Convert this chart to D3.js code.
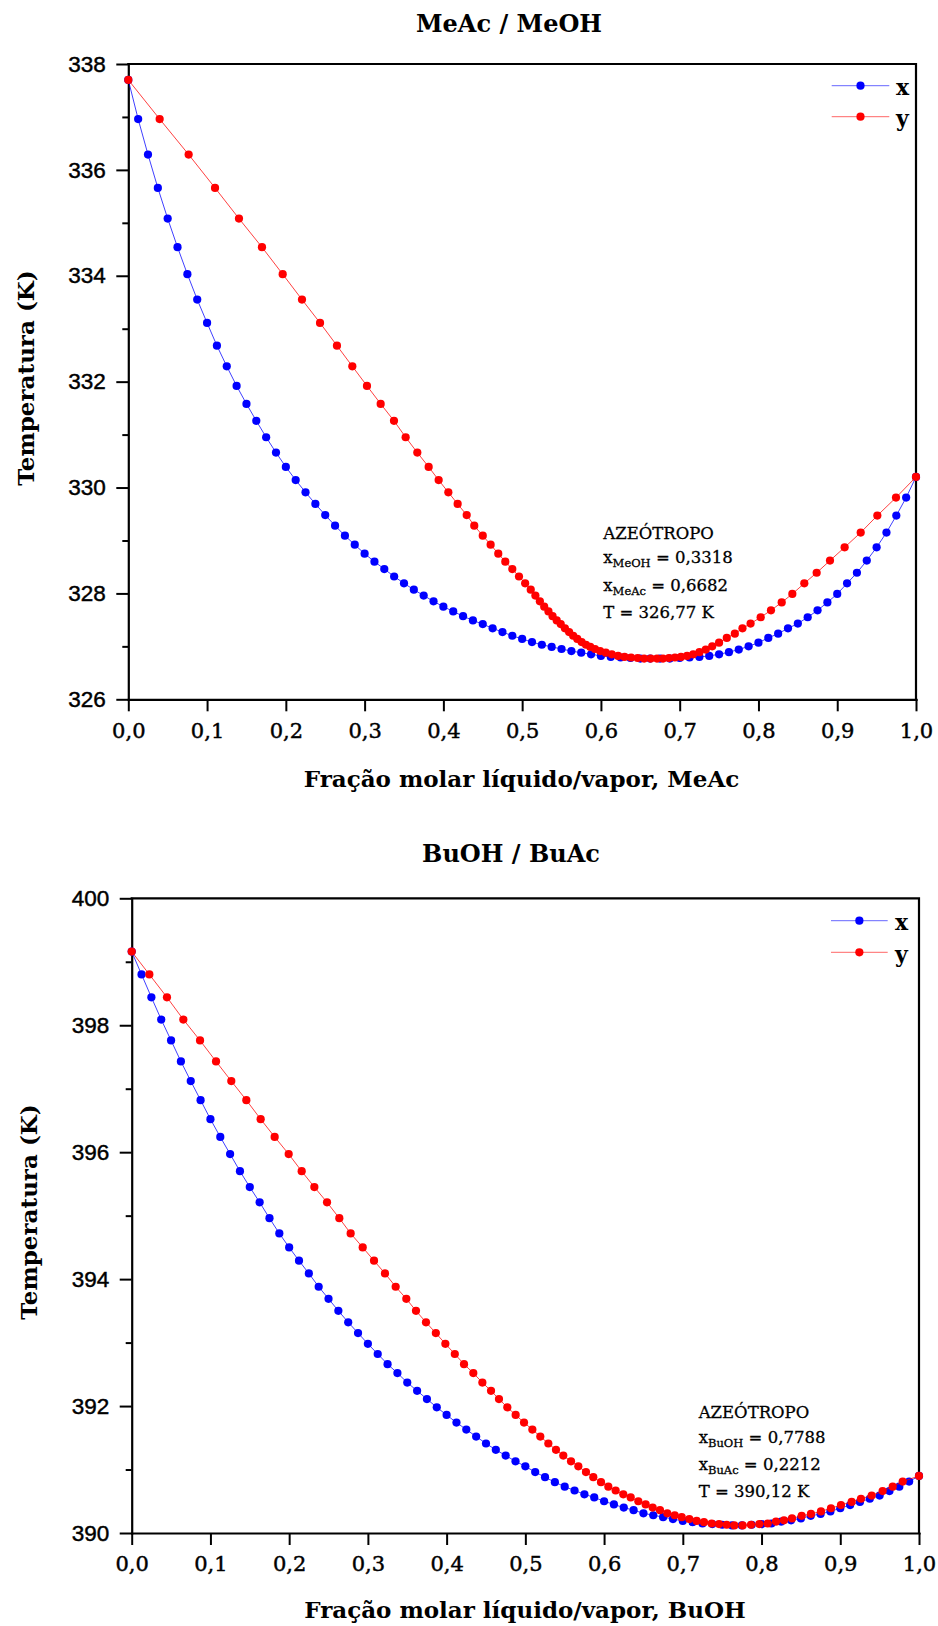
<!DOCTYPE html>
<html><head><meta charset="utf-8">
<script src="https://cdn.jsdelivr.net/npm/d3@7"></script>
<style>
body{margin:0;background:#fff;}
svg{display:block;background:#fff;}
</style></head><body>
<svg id="chart" width="938" height="1626"></svg>
<script>
// ---------- DATA ----------
const liquidFraction = [0, 0.0125, 0.025, 0.0375, 0.05, 0.0625, 0.075, 0.0875, 0.1, 0.1125,
  0.125, 0.1375, 0.15, 0.1625, 0.175, 0.1875, 0.2, 0.2125, 0.225, 0.2375,
  0.25, 0.2625, 0.275, 0.2875, 0.3, 0.3125, 0.325, 0.3375, 0.35, 0.3625,
  0.375, 0.3875, 0.4, 0.4125, 0.425, 0.4375, 0.45, 0.4625, 0.475, 0.4875,
  0.5, 0.5125, 0.525, 0.5375, 0.55, 0.5625, 0.575, 0.5875, 0.6, 0.6125,
  0.625, 0.6375, 0.65, 0.6625, 0.675, 0.6875, 0.7, 0.7125, 0.725, 0.7375,
  0.75, 0.7625, 0.775, 0.7875, 0.8, 0.8125, 0.825, 0.8375, 0.85, 0.8625,
  0.875, 0.8875, 0.9, 0.9125, 0.925, 0.9375, 0.95, 0.9625, 0.975, 0.9875, 1];

const meacTemperature = [337.70, 336.96, 336.29, 335.66, 335.08, 334.54, 334.03, 333.55, 333.11, 332.68,
  332.29, 331.92, 331.58, 331.26, 330.95, 330.66, 330.39, 330.14, 329.91, 329.69,
  329.48, 329.28, 329.09, 328.92, 328.75, 328.60, 328.46, 328.32, 328.19, 328.07,
  327.96, 327.85, 327.75, 327.66, 327.57, 327.49, 327.42, 327.34, 327.27, 327.20,
  327.14, 327.08, 327.03, 326.99, 326.95, 326.91, 326.88, 326.85, 326.82, 326.80,
  326.79, 326.78, 326.77, 326.77, 326.77, 326.77, 326.78, 326.79, 326.80, 326.82,
  326.85, 326.89, 326.94, 327.00, 327.07, 327.16, 327.24, 327.34, 327.43, 327.55,
  327.68, 327.83, 327.99, 328.19, 328.39, 328.62, 328.87, 329.15, 329.47, 329.81, 330.20];

const meacVapor = [0, 0.0398, 0.0766, 0.1101, 0.1405, 0.1697, 0.1960, 0.2205, 0.2434, 0.2649,
  0.2844, 0.3030, 0.3204, 0.3373, 0.3521, 0.3669, 0.3813, 0.3940, 0.4063, 0.4181,
  0.4296, 0.4392, 0.4500, 0.4600, 0.4697, 0.4786, 0.4875, 0.4960, 0.5038, 0.5109,
  0.5168, 0.5225, 0.5280, 0.5334, 0.5386, 0.5439, 0.5490, 0.5543, 0.5596, 0.5648,
  0.5700, 0.5755, 0.5810, 0.5865, 0.5925, 0.5990, 0.6062, 0.6138, 0.6218, 0.6300,
  0.6383, 0.6466, 0.6549, 0.6632, 0.6712, 0.6788, 0.6864, 0.6940, 0.7017, 0.7094,
  0.7172, 0.7251, 0.7331, 0.7413, 0.7500, 0.7598, 0.7700, 0.7797, 0.7900, 0.8028,
  0.8159, 0.8295, 0.8430, 0.8582, 0.8739, 0.8908, 0.9094, 0.9298, 0.9509, 0.9746, 1];

const buohTemperature = [399.16, 398.80, 398.44, 398.09, 397.76, 397.43, 397.12, 396.82, 396.52, 396.24,
  395.97, 395.70, 395.45, 395.21, 394.96, 394.72, 394.50, 394.29, 394.09, 393.88,
  393.69, 393.50, 393.32, 393.15, 392.98, 392.82, 392.66, 392.52, 392.37, 392.24,
  392.11, 391.98, 391.86, 391.74, 391.63, 391.52, 391.41, 391.31, 391.22, 391.13,
  391.05, 390.96, 390.88, 390.80, 390.73, 390.67, 390.61, 390.56, 390.50, 390.45,
  390.40, 390.36, 390.31, 390.28, 390.25, 390.22, 390.19, 390.17, 390.15, 390.14,
  390.13, 390.12, 390.12, 390.13, 390.14, 390.15, 390.18, 390.20, 390.23, 390.27,
  390.30, 390.34, 390.39, 390.44, 390.49, 390.54, 390.59, 390.66, 390.73, 390.81, 390.90];

const buohVapor = [0, 0.0224, 0.0448, 0.0656, 0.0868, 0.1071, 0.1265, 0.1456, 0.1638, 0.1816,
  0.1994, 0.2159, 0.2320, 0.2481, 0.2637, 0.2781, 0.2934, 0.3078, 0.3217, 0.3353,
  0.3488, 0.3611, 0.3738, 0.3863, 0.3984, 0.4104, 0.4221, 0.4339, 0.4454, 0.4564,
  0.4665, 0.4771, 0.4877, 0.4983, 0.5089, 0.5190, 0.5292, 0.5389, 0.5482, 0.5580,
  0.5673, 0.5770, 0.5863, 0.5961, 0.6054, 0.6147, 0.6244, 0.6338, 0.6435, 0.6528,
  0.6617, 0.6710, 0.6803, 0.6897, 0.6986, 0.7083, 0.7176, 0.7269, 0.7366, 0.7460,
  0.7557, 0.7654, 0.7760, 0.7866, 0.7972, 0.8078, 0.8184, 0.8285, 0.8387, 0.8510,
  0.8628, 0.8755, 0.8882, 0.9009, 0.9145, 0.9263, 0.9399, 0.9538, 0.9666, 0.9793, 1];

const xTickValues = [0, 0.1, 0.2, 0.3, 0.4, 0.5, 0.6, 0.7, 0.8, 0.9, 1.0];
const meacYTicks = [326, 328, 330, 332, 334, 336, 338];
const meacYMinorTicks = [327, 329, 331, 333, 335, 337];
const buohYTicks = [390, 392, 394, 396, 398, 400];
const buohYMinorTicks = [391, 393, 395, 397, 399];
const seriesNames = ["x", "y"];
const seriesColors = ["#0000ff", "#ff0000"];

const meacAnnotation = [
  {main: "AZEÓTROPO"},
  {main: "x", sub: "MeOH", rest: " = 0,3318"},
  {main: "x", sub: "MeAc", rest: " = 0,6682"},
  {main: "T = 326,77 K"}
];
const buohAnnotation = [
  {main: "AZEÓTROPO"},
  {main: "x", sub: "BuOH", rest: " = 0,7788"},
  {main: "x", sub: "BuAc", rest: " = 0,2212"},
  {main: "T = 390,12 K"}
];

// ---------- LAYOUT ----------
const panels = [
  {
    title: "MeAc / MeOH", xLabel: "Fração molar líquido/vapor, MeAc", yLabel: "Temperatura (K)",
    T: meacTemperature, vapor: meacVapor, yDomain: [326, 338], yTicks: meacYTicks, yMinor: meacYMinorTicks,
    annotation: meacAnnotation,
    left: 128.3, right: 916, top: 64, bottom: 699.3,
    titleX: 509, titleY: 32, xLabelX: 521.5, xLabelY: 787, yLabelX: 25, yLabelY: 378,
    legX0: 831.7, legX1: 889.3, legY: 85.7, legDy: 31, legTextX: 896,
    annX: 603.3, annY: [539.3, 563.3, 590.7, 618.3]
  },
  {
    title: "BuOH / BuAc", xLabel: "Fração molar líquido/vapor, BuOH", yLabel: "Temperatura (K)",
    T: buohTemperature, vapor: buohVapor, yDomain: [390, 400], yTicks: buohYTicks, yMinor: buohYMinorTicks,
    annotation: buohAnnotation,
    left: 131.7, right: 919, top: 898.3, bottom: 1533,
    titleX: 511, titleY: 861.7, xLabelX: 525, xLabelY: 1618, yLabelX: 28.5, yLabelY: 1212,
    legX0: 831, legX1: 887.7, legY: 920.7, legDy: 31.6, legTextX: 895,
    annX: 698.7, annY: [1418.3, 1442.7, 1470, 1496.7]
  }
];

const SERIF = "'DejaVu Serif', serif";
const SANS = "'Liberation Sans', Arial, sans-serif";
const svg = d3.select("#chart");
const fmtX = d => d3.format(".1f")(d).replace(".", ",");

panels.forEach(p => {
  const g = svg.append("g");
  const xs = d3.scaleLinear().domain([0, 1]).range([p.left, p.right]);
  const ys = d3.scaleLinear().domain(p.yDomain).range([p.bottom, p.top]);

  // x axis
  const gx = g.append("g").attr("transform", `translate(0,${p.bottom})`)
    .call(d3.axisBottom(xs).tickValues(xTickValues).tickFormat(fmtX)
      .tickSize(12).tickSizeOuter(0).tickPadding(11.5));
  // y axis major
  const gy = g.append("g").attr("transform", `translate(${p.left},0)`)
    .call(d3.axisLeft(ys).tickValues(p.yTicks).tickFormat(d3.format("d"))
      .tickSize(12).tickSizeOuter(0).tickPadding(10.5));
  // y axis minor
  const gym = g.append("g").attr("transform", `translate(${p.left},0)`)
    .call(d3.axisLeft(ys).tickValues(p.yMinor).tickFormat("").tickSize(6).tickSizeOuter(0));
  gym.select(".domain").remove();

  [gx, gy, gym].forEach(a => {
    a.selectAll(".domain").attr("stroke", "#000").attr("stroke-width", 2.2).attr("stroke-linecap", "square");
    a.selectAll(".tick line").attr("stroke", "#000").attr("stroke-width", 2);
  });
  gx.selectAll(".tick text").attr("font-family", SERIF).attr("font-size", 21).attr("fill", "#000")
    .attr("stroke", "#000").attr("stroke-width", 0.45);
  gy.selectAll(".tick text").attr("font-family", SANS).attr("font-size", 22.5).attr("fill", "#000")
    .attr("stroke", "#000").attr("stroke-width", 0.45);

  // frame (top and right)
  g.append("path")
    .attr("d", `M${xs.range()[0]},${ys.range()[1]}H${xs.range()[1]}V${ys.range()[0]}`)
    .attr("fill", "none").attr("stroke", "#000").attr("stroke-width", 2.2).attr("stroke-linecap", "square");

  // data series
  const series = [
    {name: seriesNames[0], color: seriesColors[0], pts: liquidFraction.map((v, i) => [v, p.T[i]])},
    {name: seriesNames[1], color: seriesColors[1], pts: p.vapor.map((v, i) => [v, p.T[i]])}
  ];
  const line = d3.line().x(d => xs(d[0])).y(d => ys(d[1]));
  series.forEach(s => {
    g.append("path").datum(s.pts).attr("d", line)
      .attr("fill", "none").attr("stroke", s.color).attr("stroke-width", 1).attr("stroke-opacity", 0.75);
    g.append("g").selectAll("circle").data(s.pts).join("circle")
      .attr("cx", d => xs(d[0])).attr("cy", d => ys(d[1])).attr("r", 4.1)
      .attr("fill", s.color);
  });

  // legend
  series.forEach((s, i) => {
    const ly = p.legY + i * p.legDy;
    g.append("line").attr("x1", p.legX0).attr("x2", p.legX1).attr("y1", ly).attr("y2", ly)
      .attr("stroke", s.color).attr("stroke-width", 1).attr("stroke-opacity", 0.6);
    g.append("circle").attr("cx", (p.legX0 + p.legX1) / 2).attr("cy", ly).attr("r", 4.1).attr("fill", s.color);
    g.append("text").attr("x", p.legTextX).attr("y", ly + 9.3).text(s.name)
      .attr("font-family", SERIF).attr("font-weight", "bold").attr("font-size", 22).attr("fill", "#000");
  });

  // annotation
  p.annotation.forEach((a, i) => {
    const t = g.append("text").attr("x", p.annX).attr("y", p.annY[i])
      .attr("font-family", SERIF).attr("font-size", 16.5).attr("fill", "#000")
      .attr("stroke", "#000").attr("stroke-width", 0.3);
    t.append("tspan").text(a.main);
    if (a.sub) {
      t.append("tspan").attr("font-size", 11.5).attr("dy", 4).text(a.sub);
      t.append("tspan").attr("dy", -4).text(a.rest);
    }
  });

  // titles and axis labels
  g.append("text").attr("x", p.titleX).attr("y", p.titleY).attr("text-anchor", "middle")
    .attr("font-family", SERIF).attr("font-weight", "bold").attr("font-size", 24).text(p.title);
  g.append("text").attr("x", p.xLabelX).attr("y", p.xLabelY).attr("text-anchor", "middle")
    .attr("font-family", SERIF).attr("font-weight", "bold").attr("font-size", 23).text(p.xLabel);
  g.append("text").attr("transform", `translate(${p.yLabelX},${p.yLabelY}) rotate(-90)`)
    .attr("text-anchor", "middle").attr("dominant-baseline", "central")
    .attr("font-family", SERIF).attr("font-weight", "bold").attr("font-size", 23).text(p.yLabel);
});
</script>
</body></html>
